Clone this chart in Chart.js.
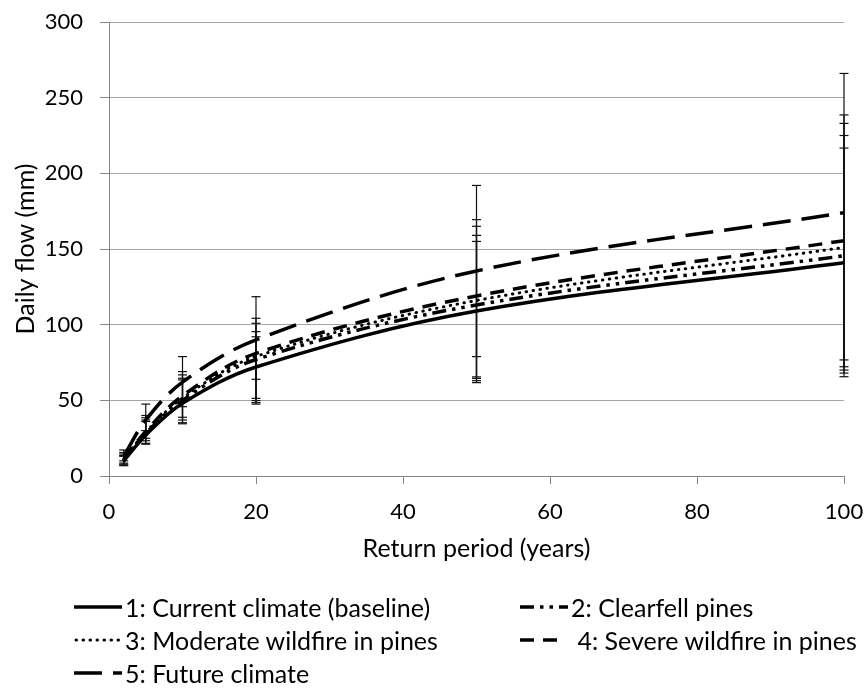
<!DOCTYPE html>
<html><head><meta charset="utf-8">
<script src="https://cdn.jsdelivr.net/npm/chart.js@4.4.1/dist/chart.umd.min.js"></script>
<style>
html,body{margin:0;padding:0;background:#fff;}
#wrap{position:relative;width:864px;height:689px;overflow:hidden;}
canvas{position:absolute;left:0;top:0;}
.leg{position:absolute;font-family:Lato, sans-serif;font-size:25px;color:#000;white-space:nowrap;display:flex;align-items:center;height:30px;}
.leg svg{display:block;margin-right:3px;}
</style></head><body>
<div id="wrap"><canvas id="c" width="864" height="689"></canvas><div id="legend"></div></div>
<script>
// ---- data ----
const returnPeriods = [2, 5, 10, 20, 50, 100];
const seriesNames = [
  '1: Current climate (baseline)',
  '2: Clearfell pines',
  '3: Moderate wildfire in pines',
  '4: Severe wildfire in pines',
  '5: Future climate'
];
const baseline      = [10, 27, 48, 72, 109, 141];
const clearfell     = [10.5, 28, 50, 77, 113, 145.5];
const moderateFire  = [11, 29, 51.5, 79, 116, 151];
const severeFire    = [11, 29.5, 53, 81, 119, 155.5];
const futureClimate = [13, 37, 62, 90, 135.5, 174];

const baselineHigh      = [13, 36, 63.5, 92, 155, 216.7];
const baselineLow       = [6.8, 21, 34.5, 47.5, 61.7, 65.6];
const clearfellHigh     = [13.5, 37, 64.6, 95.4, 159, 225];
const clearfellLow      = [7.2, 21.6, 35.2, 48.5, 63, 68];
const moderateFireHigh  = [14.5, 38.5, 66.8, 100.9, 165, 233];
const moderateFireLow   = [7.8, 23.3, 37, 49.8, 64.5, 70];
const severeFireHigh    = [15.5, 40, 69, 104.2, 169.4, 238.6];
const severeFireLow     = [8.5, 24.9, 38.8, 51.3, 65.5, 72.2];
const futureClimateHigh = [17.2, 47.5, 78.9, 118.5, 192, 266];
const futureClimateLow  = [10, 30, 45.8, 63.9, 78.9, 76.7];

const xTicks = [0, 20, 40, 60, 80, 100];
const yTicks = [0, 50, 100, 150, 200, 250, 300];

// ---- styles ----
const values = [baseline, clearfell, moderateFire, severeFire, futureClimate];
const highs = [baselineHigh, clearfellHigh, moderateFireHigh, severeFireHigh, futureClimateHigh];
const lows = [baselineLow, clearfellLow, moderateFireLow, severeFireLow, futureClimateLow];
const dashes = [[], [14, 6, 3.5, 6, 3.5, 6], [0.5, 6.5], [14, 9], [28, 11]];
const caps = ['butt', 'butt', 'round', 'butt', 'butt'];
const widths = [3.5, 3.5, 3, 3.5, 3.5];
const sampleLen = [48, 48, 48, 37, 48];

const datasets = [];
values.forEach((v, i) => {
  datasets.push({
    label: seriesNames[i],
    data: returnPeriods.map((x, j) => ({x, y: v[j]})),
    borderColor: '#000',
    borderWidth: widths[i],
    borderDash: dashes[i],
    borderCapStyle: caps[i],
    pointRadius: 0,
    tension: 0.35,
    fill: false,
    order: 1
  });
});
values.forEach((v, i) => {
  const pts = [];
  returnPeriods.forEach((x, j) => {
    pts.push({x, y: lows[i][j]});
    pts.push({x, y: highs[i][j]});
    pts.push({x, y: null});
  });
  datasets.push({
    label: 'err' + i,
    data: pts,
    borderColor: '#111',
    borderWidth: 1.2,
    pointStyle: 'line',
    pointRadius: 4.5,
    pointBorderWidth: 1.2,
    pointBorderColor: '#111',
    pointHoverRadius: 0,
    spanGaps: false,
    tension: 0,
    clip: false,
    order: 2
  });
});

const tickFont = {family: 'Lato, sans-serif', size: 22};
const titleFont = {family: 'Lato, sans-serif', size: 25};
new Chart(document.getElementById('c'), {
  type: 'line',
  data: {datasets},
  options: {
    responsive: false,
    devicePixelRatio: 1,
    animation: false,
    events: [],
    layout: {padding: {left: 0, right: 20, top: 22, bottom: 125}},
    plugins: {legend: {display: false}, tooltip: {enabled: false}},
    scales: {
      x: {
        type: 'linear', min: 0, max: 100,
        afterFit: s => { s.height = 88; s.paddingLeft = 0; s.paddingRight = 0; },
        afterBuildTicks: s => { s.ticks = xTicks.map(v => ({value: v})); },
        grid: {drawOnChartArea: false, drawTicks: true, tickLength: 8, tickColor: '#868686'},
        border: {display: true, color: '#868686', width: 1},
        ticks: {font: tickFont, color: '#000', padding: 15, maxRotation: 0},
        title: {display: true, text: 'Return period (years)', font: titleFont, color: '#000', padding: {top: 0, bottom: 0}}
      },
      y: {
        type: 'linear', min: 0, max: 300,
        afterFit: s => { s.width = 109; s.paddingTop = 0; s.paddingBottom = 0; },
        afterBuildTicks: s => { s.ticks = yTicks.map(v => ({value: v})); },
        grid: {color: '#a6a6a6', lineWidth: 1, drawTicks: true, tickLength: 9, tickColor: '#868686'},
        border: {display: true, color: '#868686', width: 1},
        ticks: {font: tickFont, color: '#000', padding: 17},
        title: {display: true, text: 'Daily flow (mm)', font: titleFont, color: '#000', padding: {top: 11, bottom: 0}}
      }
    }
  }
});

// ---- legend (HTML) ----
const legPos = [
  {left: 74, top: 607}, {left: 520, top: 607},
  {left: 74, top: 640}, {left: 520, top: 640},
  {left: 74, top: 673}
];
const legend = document.getElementById('legend');
seriesNames.forEach((name, i) => {
  const d = document.createElement('div');
  d.className = 'leg';
  d.style.left = legPos[i].left + 'px';
  d.style.top = (legPos[i].top - 15) + 'px';
  const w = 48;
  const svgNS = 'http://www.w3.org/2000/svg';
  const svg = document.createElementNS(svgNS, 'svg');
  svg.setAttribute('width', w); svg.setAttribute('height', 10);
  const ln = document.createElementNS(svgNS, 'line');
  ln.setAttribute('x1', caps[i] === 'round' ? 2 : 0); ln.setAttribute('x2', sampleLen[i]);
  ln.setAttribute('y1', 5); ln.setAttribute('y2', 5);
  ln.setAttribute('stroke', '#000');
  ln.setAttribute('stroke-width', widths[i]);
  ln.setAttribute('stroke-linecap', caps[i]);
  if (dashes[i].length) ln.setAttribute('stroke-dasharray', dashes[i].join(' '));
  svg.appendChild(ln);
  d.appendChild(svg);
  const t = document.createElement('span');
  t.textContent = (i === 3 ? '\u00a0' : '') + name;
  d.appendChild(t);
  legend.appendChild(d);
});
</script>
</body></html>
